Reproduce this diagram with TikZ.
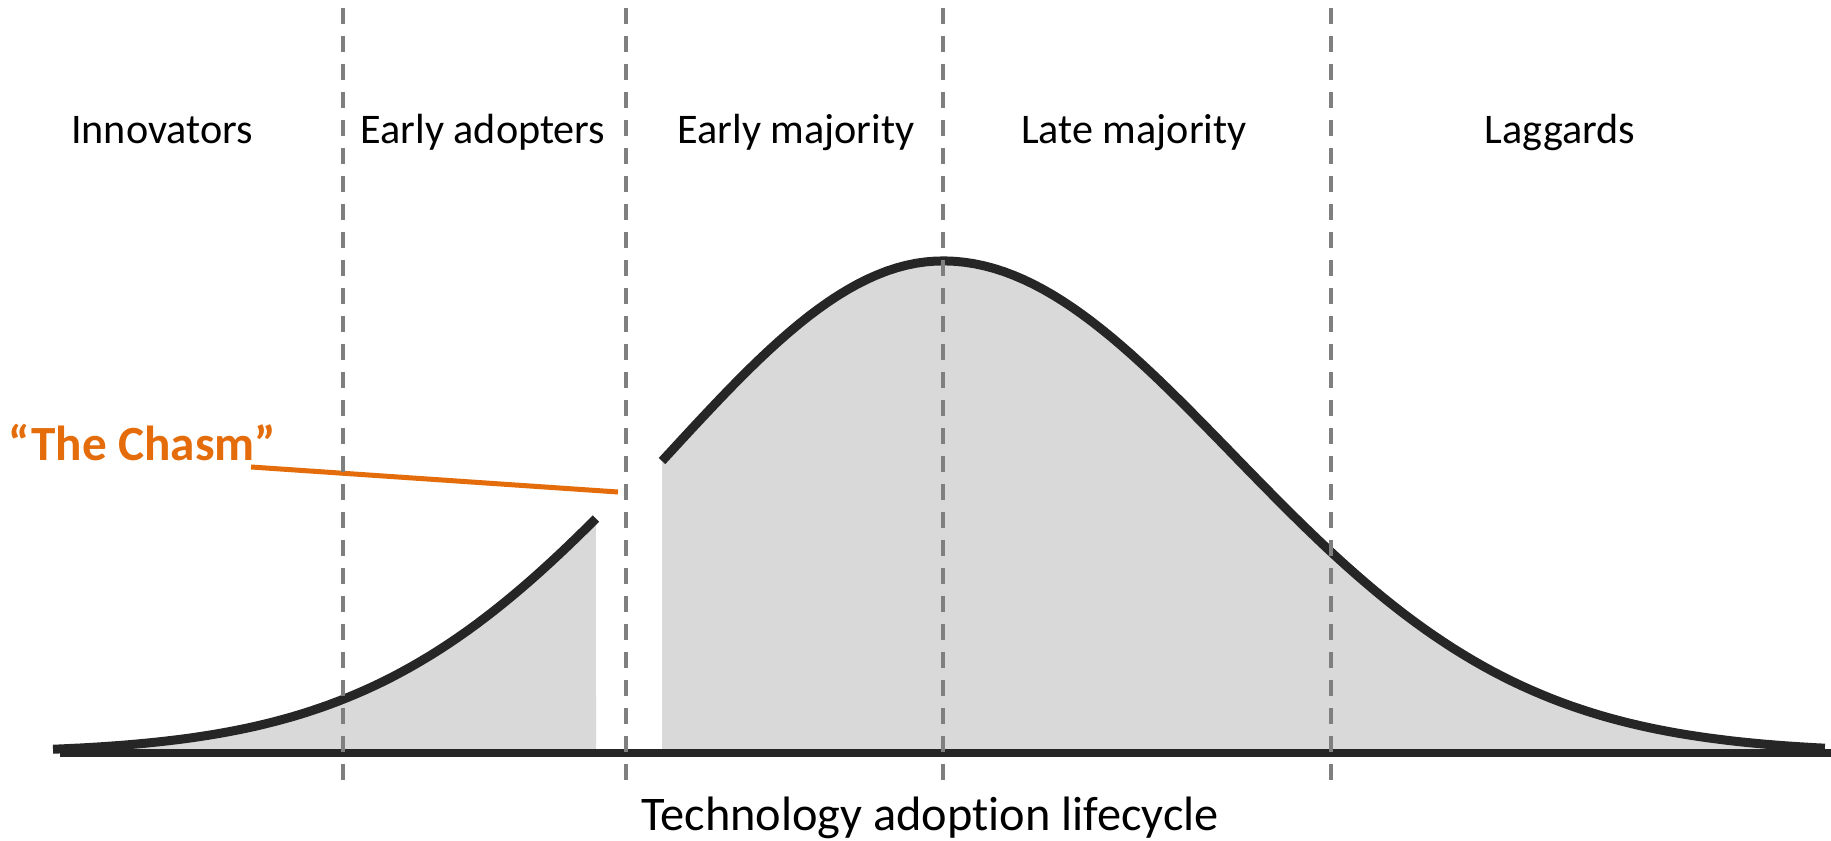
\documentclass[tikz,border=0pt]{standalone}
\usepackage{fontspec}
\setmainfont{Carlito}[Ligatures=NoCommon, Contextuals=NoAlternate]
\usetikzlibrary{calc}

\definecolor{curvegray}{HTML}{262626}
\definecolor{areagray}{HTML}{D9D9D9}
\definecolor{linegray}{HTML}{7F7F7F}
\definecolor{chasmorange}{HTML}{E46C0A}

\begin{document}
\begin{tikzpicture}[
		declare function={bell(\x,\s)=-7.53+4.92*exp(-((\x-9.43)^2)/(2*\s^2));
			rightbell(\x)=bell(\x,(\x<9.43?2.75:2.9));},
		phase/.style={anchor=base, font=\fontsize{12}{14}\selectfont},
		divider/.style={linegray, line width=0.04cm, dash pattern=on 0.16cm off 0.12cm}]
				\useasboundingbox[fill=white] (0,0) rectangle (18.31,-8.41);
				
				\fill[areagray] (0.53,-7.53) -- plot[domain=0.53:5.96, samples=60] (\x,{bell(\x,2.85)}) -- (5.96,-7.53) -- cycle;
				\fill[areagray] (6.62,-7.53) -- plot[domain=6.62:18.25, samples=120] (\x,{rightbell(\x)}) -- (18.25,-7.53) -- cycle;
				
				\draw[curvegray, line width=0.07cm] (0.60,-7.53) -- (18.31,-7.53);
				\draw[curvegray, line width=0.09cm] plot[domain=0.53:5.96, samples=60] (\x,{bell(\x,2.85)});
				\draw[curvegray, line width=0.09cm] plot[domain=6.62:18.25, samples=120] (\x,{rightbell(\x)});
				
				\node[anchor=base west, text=chasmorange, font=\fontsize{14}{16}\selectfont\bfseries] (chasm) at (-0.04,-4.61) {“The Chasm”};
				\coordinate (chasm start) at (2.51,-4.67);
				\coordinate (chasm gap) at (6.18,-4.92);
				\draw[chasmorange, line width=0.05cm] (chasm start) -- (chasm gap);
				
				\foreach \x in {3.43,6.26,9.43,13.31}
					\draw[divider] (\x,-0.08) -- (\x,-7.82);
				
				\node[phase] (innovators) at (1.62,-1.44) {Innovators};
				\node[phase] (early adopters) at (4.83,-1.44) {Early adopters};
				\node[phase] (early majority) at (7.96,-1.44) {Early majority};
				\node[phase] (late majority) at (11.34,-1.44) {Late majority};
				\node[phase] (laggards) at (15.60,-1.44) {Laggards};
				
				\node[anchor=base, font=\fontsize{13.75}{16}\selectfont] (lifecycle) at (9.30,-8.30) {Technology adopt\kern0pt ion lifecycle};
			\end{tikzpicture}
\end{document}
